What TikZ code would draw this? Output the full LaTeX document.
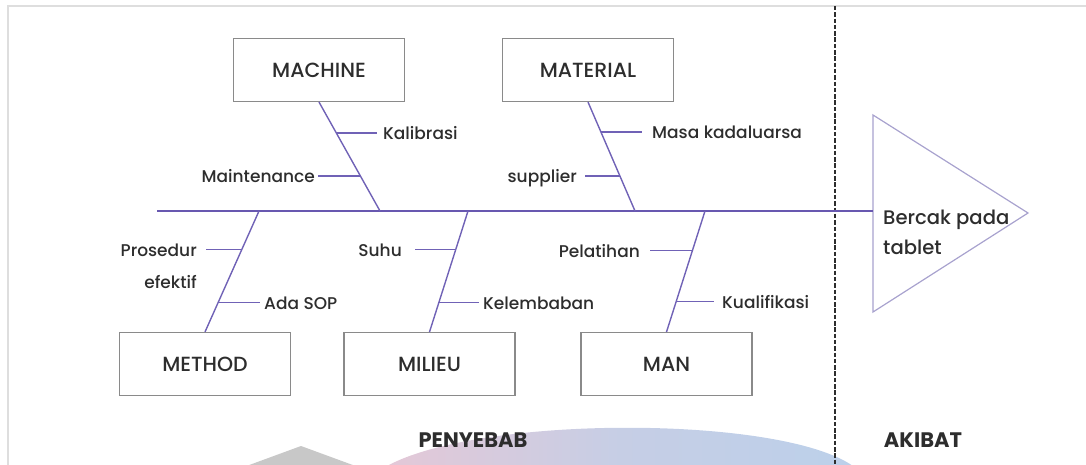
\documentclass[tikz,border=0pt]{standalone}
\usepackage{fontspec}
\setmainfont{Poppins}[UprightFont={* Medium}, BoldFont={* Bold}]
\usetikzlibrary{calc}

\definecolor{spinecol}{RGB}{104,88,176}
\definecolor{bonecol}{RGB}{112,98,182}
\definecolor{headcol}{RGB}{168,162,206}
\definecolor{ink}{RGB}{45,45,45}
\definecolor{boxline}{RGB}{138,138,138}
\definecolor{frameline}{RGB}{222,222,222}
\definecolor{wmgray}{RGB}{200,200,200}
\definecolor{wmpink}{RGB}{228,200,215}
\definecolor{wmblue}{RGB}{188,208,234}

\begin{document}
\begin{tikzpicture}[x=1pt,y=-1pt,
  catbox/.style={draw=boxline, line width=1.1pt, minimum width=171pt,
    minimum height=63pt, inner sep=0pt, text=ink,
    font=\fontsize{20.5}{22}\selectfont},
  bonestyle/.style={draw=bonecol, line width=1.4pt},
  spinestyle/.style={draw=spinecol, line width=2.8pt},
  tickstyle/.style={draw=bonecol, line width=1.3pt},
  lbl/.style={text=ink, inner sep=0pt, text height=12.2pt, text depth=0pt,
    font=\fontsize{17}{20}\selectfont},
  sidelbl/.style={text=ink, inner sep=0pt, text height=14.5pt, text depth=0pt,
    font=\bfseries\fontsize{21}{23}\selectfont}]

\useasboundingbox (0,0) rectangle (1086,465);

% page frame
\draw[frameline, line width=1.5pt] (8,465) -- (8,6) -- (1086,6);

% faint background shapes at the bottom edge
\begin{scope}
  \clip (0,0) rectangle (1086,465);
  \fill[wmgray] (222,475) -- (301,446) -- (380,475) -- cycle;
  \shade[left color=wmpink, right color=wmblue, middle color=wmblue!75!wmpink]
    (387,466) .. controls (480,415) and (780,415) .. (853,466) -- cycle;
\end{scope}

% divider between causes and effect
\coordinate (divtop) at (835,6);
\coordinate (divbot) at (835,465);
\draw[ink, line width=2.7pt, dash pattern=on 4.5pt off 1.8pt] (divtop) -- (divbot);

% head of the fish
\coordinate (headtop) at (873,115);
\coordinate (headbot) at (873,312);
\coordinate (headtip) at (1028,213);
\coordinate (headmid) at (873,211);
\draw[headcol, line width=1.2pt, line join=miter] (headtop) -- (headtip) -- (headbot) -- cycle;
\node[text=ink, inner sep=0pt, anchor=west, align=left,
  font=\fontsize{19.6}{30}\selectfont] (effect) at (883,232) {Bercak pada\\tablet};

% spine
\coordinate (tail) at (157,211);
\draw[spinestyle] (tail) -- (headmid);

% category boxes
\node[catbox] (machine)  at (319,70)    {MACHINE};
\node[catbox] (material) at (588,70)    {MATERIAL};
\node[catbox] (method)   at (205,364)   {METHOD};
\node[catbox] (milieu)   at (429.5,364) {MILIEU};
\node[catbox] (man)      at (666.5,364) {MAN};

% joints on the spine
\coordinate (jmachine)  at (380,211);
\coordinate (jmaterial) at (635,211);
\coordinate (jmethod)   at (259,211);
\coordinate (jmilieu)   at (468,211);
\coordinate (jman)      at (705,211);

% bones
\draw[bonestyle] (machine.south)  -- (jmachine);
\draw[bonestyle] (material.south) -- (jmaterial);
\draw[bonestyle] (jmethod) -- (method.north);
\draw[bonestyle] (jmilieu) -- (milieu.north);
\draw[bonestyle] (jman)    -- (man.north);

% MACHINE causes
\coordinate (kal) at ($(machine.south)!0.284!(jmachine)$);
\draw[tickstyle] (kal) -- ++(41,0);
\node[lbl, anchor=west] (kallbl) at (383,133) {Kalibrasi};
\coordinate (mnt) at ($(machine.south)!0.679!(jmachine)$);
\draw[tickstyle] (mnt) -- ++(-42,0);
\node[lbl, anchor=east] (mntlbl) at (315,176) {Maintenance};

% MATERIAL causes
\coordinate (exp) at ($(material.south)!0.275!(jmaterial)$);
\draw[tickstyle] (exp) -- ++(41,0);
\node[lbl, anchor=west] (explbl) at (652,132) {Masa kadaluarsa};
\coordinate (sup) at ($(material.south)!0.679!(jmaterial)$);
\draw[tickstyle] (sup) -- ++(-35,0);
\node[lbl, anchor=east] (suplbl) at (577,176) {supplier};

% METHOD causes
\coordinate (pro) at ($(jmethod)!0.32!(method.north)$);
\draw[tickstyle] (pro) -- ++(-36,0);
\node[lbl, anchor=east] (prolbl) at (197,250) {Prosedur};
\node[lbl, anchor=east] (prolbl2) at (197,282) {efektif};
\coordinate (sop) at ($(jmethod)!0.754!(method.north)$);
\draw[tickstyle] (sop) -- ++(42,0);
\node[lbl, anchor=west] (soplbl) at (264,303) {Ada SOP};

% MILIEU causes
\coordinate (suh) at ($(jmilieu)!0.32!(milieu.north)$);
\draw[tickstyle] (suh) -- ++(-41,0);
\node[lbl, anchor=east] (suhlbl) at (402,250) {Suhu};
\coordinate (kel) at ($(jmilieu)!0.754!(milieu.north)$);
\draw[tickstyle] (kel) -- ++(40,0);
\node[lbl, anchor=west] (kellbl) at (483,303) {Kelembaban};

% MAN causes
\coordinate (pel) at ($(jman)!0.328!(man.north)$);
\draw[tickstyle] (pel) -- ++(-42,0);
\node[lbl, anchor=east] (pellbl) at (640,251) {Pelatihan};
\coordinate (kua) at ($(jman)!0.746!(man.north)$);
\draw[tickstyle] (kua) -- ++(38,0);
\node[lbl, anchor=west] (kualbl) at (722,302) {Kualifikasi};

% section captions
\node[sidelbl] (causes) at (473,440) {PENYEBAB};
\node[sidelbl] (result) at (923,440) {AKIBAT};
\end{tikzpicture}
\end{document}
